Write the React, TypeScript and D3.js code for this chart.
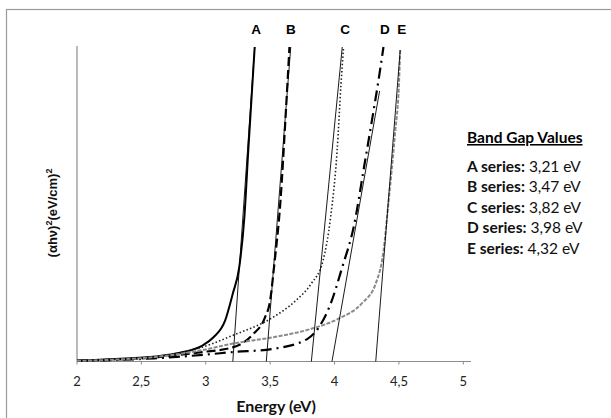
import React from 'react';
import * as d3 from 'd3';

// energy (eV) / (αhν)² in arbitrary units (0-100 = axis height)
const energyA = [2, 2.3, 2.61, 2.8, 2.97, 3.06, 3.15, 3.21, 3.26, 3.3, 3.33, 3.38];
const valuesA = [0.3, 0.8, 1.6, 2.8, 5, 7.7, 13, 21.6, 30, 46, 67, 100];

const energyB = [2, 2.3, 2.6, 2.97, 3.21, 3.37, 3.46, 3.5, 3.53, 3.58, 3.62, 3.65];
const valuesB = [0.2, 0.6, 1.3, 3, 4.5, 8.8, 14, 19.4, 30, 51, 78, 100];

const energyC = [2, 2.3, 2.6, 2.97, 3.21, 3.52, 3.7, 3.82, 3.91, 3.97, 4.02, 4.05, 4.07];
const valuesC = [0.2, 0.6, 1.4, 4.5, 8.3, 14, 19.4, 24.8, 32, 46, 67, 88, 100];

const energyD = [2, 2.3, 2.6, 3.0, 3.21, 3.52, 3.79, 3.88, 3.97, 4.06, 4.15, 4.23, 4.3, 4.34, 4.38];
const valuesD = [0.2, 0.5, 1.0, 2.2, 3, 4, 7.2, 11, 18.4, 30, 43, 62, 79, 89, 100];

const energyE = [2, 2.3, 2.6, 2.97, 3.21, 3.52, 3.82, 4.03, 4.21, 4.32, 4.38, 4.42, 4.47, 4.5, 4.51];
const valuesE = [0.2, 0.6, 1.4, 3.6, 5.7, 7.7, 10.4, 13.6, 18.4, 24.8, 35, 51, 72.6, 88, 99];

const seriesNames = ['A', 'B', 'C', 'D', 'E'];
const bandGaps = [3.21, 3.47, 3.82, 3.98, 4.32];
// upper end of each tangent line
const tangentTopE = [3.38, 3.66, 4.06, 4.35, 4.51];
const tangentTopV = [100, 100, 100, 86, 99];

const xTicks = [2, 2.5, 3, 3.5, 4, 4.5, 5];

const W = 611, H = 418;
const left = 77, right = 463.3, top = 47, bottom = 361.5;

const seriesStyle = [
  { stroke: '#000', width: 2, dash: '' },
  { stroke: '#000', width: 2.2, dash: '9,4' },
  { stroke: '#222', width: 1.6, dash: '1.5,2.2' },
  { stroke: '#000', width: 2.2, dash: '11,5,2,5' },
  { stroke: '#8a8a8a', width: 2, dash: '4,1.5' },
];

export default function App() {
  const x = d3.scaleLinear().domain([2, 5]).range([left, right]);
  const y = d3.scaleLinear().domain([0, 100]).range([bottom, top]);

  const all = [
    [energyA, valuesA],
    [energyB, valuesB],
    [energyC, valuesC],
    [energyD, valuesD],
    [energyE, valuesE],
  ];

  const line = d3
    .line<[number, number]>()
    .x((d) => x(d[0]))
    .y((d) => y(d[1]))
    .curve(d3.curveMonotoneX);

  const legendFont = 'Lato, "Open Sans", sans-serif';
  const arial = '"Liberation Sans", Arial, sans-serif';

  return (
    <svg width={W} height={H} style={{ position: 'absolute', left: 0, top: 0, background: '#fff' }}>
      <rect x={6.5} y={9.5} width={700} height={500} fill="none" stroke="#9a9a9a" strokeWidth={1.2} />

      {/* axes */}
      <line x1={left} x2={left} y1={top - 1} y2={bottom} stroke="#8c8c8c" strokeWidth={1.2} />
      <line x1={left} x2={471} y1={bottom} y2={bottom} stroke="#8c8c8c" strokeWidth={1.2} />
      {xTicks.map((t) => (
        <g key={t}>
          <line x1={x(t)} x2={x(t)} y1={bottom} y2={bottom + 3} stroke="#8c8c8c" />
          <text x={x(t)} y={bottom + 24} textAnchor="middle" fontSize={13} fontFamily={legendFont} fill="#222">
            {String(t).replace('.', ',')}
          </text>
        </g>
      ))}

      {/* curves */}
      {all.map(([ex, vy], i) => (
        <path
          key={i}
          d={line(ex.map((e, j) => [e, vy[j]] as [number, number])) || ''}
          fill="none"
          stroke={seriesStyle[i].stroke}
          strokeWidth={seriesStyle[i].width}
          strokeDasharray={seriesStyle[i].dash}
        />
      ))}

      {/* tangent lines */}
      {bandGaps.map((g, i) => (
        <line
          key={g}
          x1={x(g)}
          y1={y(0)}
          x2={x(tangentTopE[i])}
          y2={y(tangentTopV[i])}
          stroke="#000"
          strokeWidth={0.9}
        />
      ))}

      {/* series letters */}
      {seriesNames.map((n, i) => {
        const ex = all[i][0];
        return (
          <text
            key={n}
            x={x(ex[ex.length - 1]) + 1.5}
            y={34}
            textAnchor="middle"
            fontSize={13.5}
            fontWeight="bold"
            fontFamily={arial}
          >
            {n}
          </text>
        );
      })}

      {/* axis titles */}
      <text
        transform="translate(57,213) rotate(-90)"
        textAnchor="middle"
        fontSize={13}
        fontWeight="bold"
        fontFamily={arial}
        fill="#111"
      >
        (αhν)<tspan dy={-5} fontSize={9}>2</tspan>
        <tspan dy={5}>(eV/cm)</tspan>
        <tspan dy={-5} fontSize={9}>2</tspan>
      </text>
      <text x={276} y={412} textAnchor="middle" fontSize={16} fontWeight="bold" fontFamily={legendFont} fill="#111">
        Energy (eV)
      </text>

      {/* band gap legend */}
      <text x={467} y={143} fontSize={15.5} fontWeight="bold" fontFamily={legendFont} textDecoration="underline">
        Band Gap Values
      </text>
      {seriesNames.map((n, i) => (
        <text key={n} x={467} y={172 + i * 20.4} fontSize={15.5} fontFamily={legendFont} fill="#111">
          <tspan fontWeight="bold">{n} series:</tspan> {bandGaps[i].toFixed(2).replace('.', ',')} eV
        </text>
      ))}
    </svg>
  );
}
